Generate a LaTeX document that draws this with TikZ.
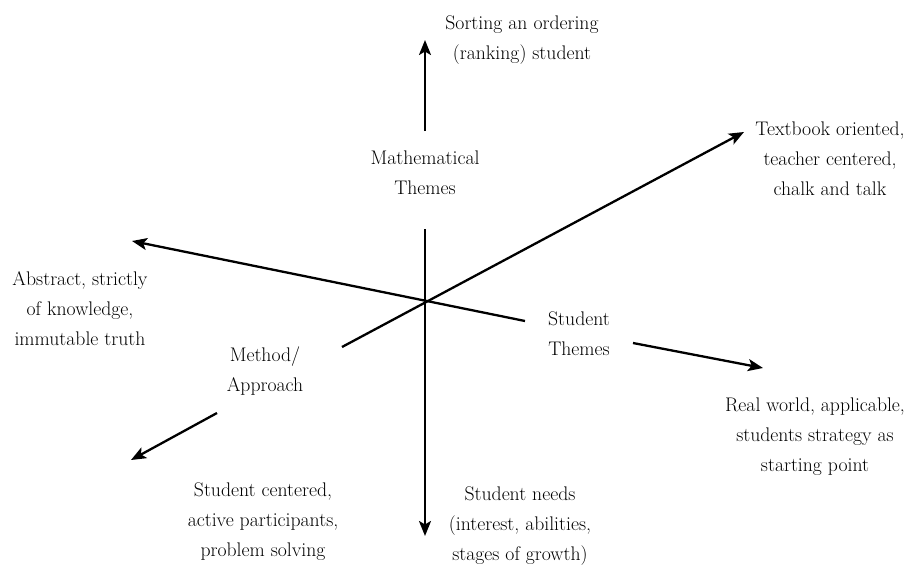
\documentclass[tikz,border=0pt]{standalone}
\usetikzlibrary{arrows.meta}
\begin{document}
\begin{tikzpicture}[x=1pt,y=-1pt,
  lbl/.style={align=center,font=\fontsize{19.7}{30}\selectfont,inner sep=0pt},
  arr/.style={line width=2.3pt,-{Stealth[length=15pt,width=12pt,inset=3.5pt]}}]
\useasboundingbox (0,0) rectangle (911,565);
% coordinates
\coordinate (upS) at (425,131);
\coordinate (upE) at (425,40);
\coordinate (dnS) at (425,229);
\coordinate (dnE) at (425,536);
\coordinate (lfS) at (525,321);
\coordinate (lfE) at (132,241);
\coordinate (rtS) at (633,343);
\coordinate (rtE) at (763,368);
\coordinate (dgS) at (342,347);
\coordinate (dgE) at (744,132);
\coordinate (llS) at (217,413);
\coordinate (llE) at (131,460);
% labels
\node[lbl] (sort) at (522,40) {Sorting an ordering\\(ranking) student};
\node[lbl] (math) at (425,173) {Mathematical\\Themes};
\node[lbl] (text) at (830,159) {Textbook oriented,\\teacher centered,\\chalk and talk};
\node[lbl] (abs) at (80,309) {Abstract, strictly\\of knowledge,\\immutable truth};
\node[lbl] (meth) at (265,371) {Method/\\Approach};
\node[lbl] (sth) at (579,334) {Student\\Themes};
\node[lbl] (real) at (815,437) {Real world, applicable,\\students strategy as\\starting point};
\node[lbl] (scen) at (263,522) {Student centered,\\active participants,\\problem solving};
\node[lbl] (need) at (520,526) {Student needs\\(interest, abilities,\\stages of growth)};
% connectors
\draw[arr] (upS) -- (upE);
\draw[arr] (dnS) -- (dnE);
\draw[arr] (lfS) -- (lfE);
\draw[arr] (rtS) -- (rtE);
\draw[arr] (dgS) -- (dgE);
\draw[arr] (llS) -- (llE);
\end{tikzpicture}
\end{document}
